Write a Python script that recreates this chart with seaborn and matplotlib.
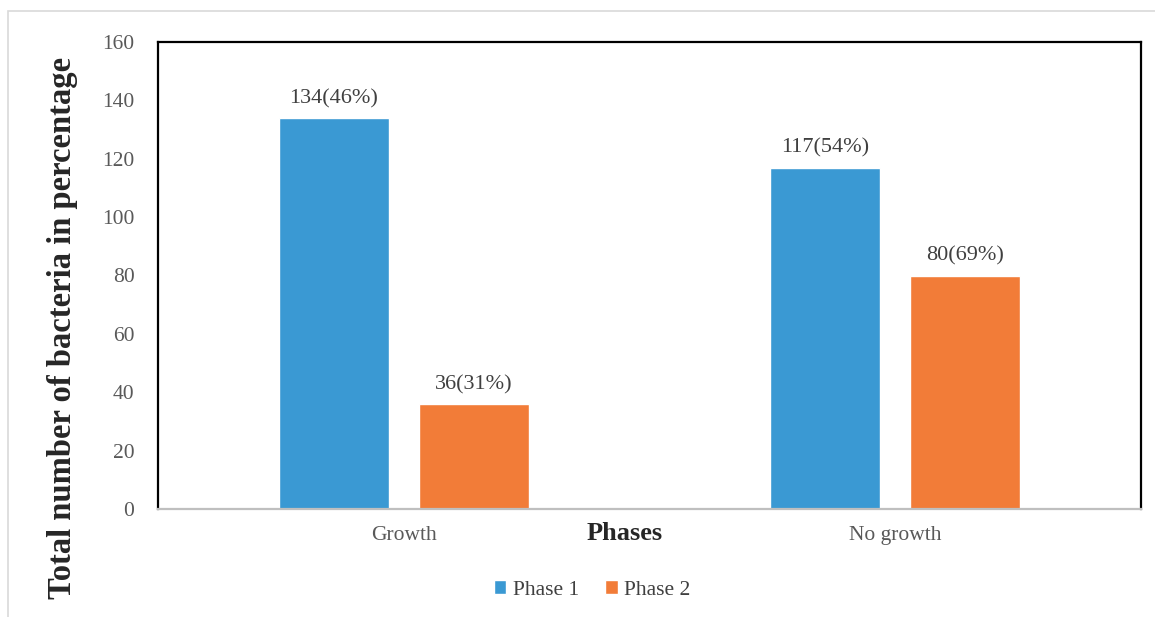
import pandas as pd
import matplotlib
matplotlib.use("Agg")
import matplotlib.pyplot as plt
import seaborn as sns
from matplotlib.patches import Rectangle, Patch

categories = ["Growth", "No growth"]
phases = ["Phase 1", "Phase 2"]
phase1_counts = [134, 117]
phase2_counts = [36, 80]
phase1_labels = ["134(46%)", "117(54%)"]
phase2_labels = ["36(31%)", "80(69%)"]

data = pd.DataFrame({
    "Category": categories * 2,
    "Phase": [phases[0]] * 2 + [phases[1]] * 2,
    "Count": phase1_counts + phase2_counts,
})

sns.set_style("white")
plt.rcParams['font.family'] = ['Liberation Serif', 'DejaVu Serif']

my_pal = {"Phase 1": '#3A99D3', "Phase 2": '#F27C38'}

fig = plt.figure(figsize=(11.55, 6.17), dpi=100)
ax = fig.add_axes([158 / 1155, 1 - 509 / 617, 983 / 1155, 467 / 617])

sns.barplot(ax=ax, data=data, x="Category", y="Count", hue="Phase", palette=my_pal,
            width=0.57, gap=0.214, saturation=1, legend=False)

for cont, labs in zip(ax.containers, [phase1_labels, phase2_labels]):
    ax.bar_label(cont, labels=labs, padding=7, fontsize=16, color='#404040')

ax.set_ylim(0, 160)
ax.set_yticks(range(0, 161, 20))
ax.set_xlim(-0.5, 1.5)
ax.tick_params(axis='both', length=0, labelsize=15.5, labelcolor='#595959')
ax.tick_params(axis='y', pad=17)
ax.tick_params(axis='x', pad=12)
ax.set_ylabel("Total number of bacteria in percentage", fontsize=23.5, fontweight='bold',
              color='#262626')
ax.yaxis.label.set_va('center')
ax.yaxis.set_label_coords(-0.097, 0.388)
ax.set_xlabel("Phases", fontsize=19, fontweight='bold', color='#262626')
ax.xaxis.label.set_va('center')
ax.xaxis.set_label_coords(0.475, -0.053)

for s in ['left', 'top', 'right']:
    ax.spines[s].set_visible(True)
    ax.spines[s].set_color('black')
    ax.spines[s].set_linewidth(1.6)
ax.spines['bottom'].set_color('#BFBFBF')
ax.spines['bottom'].set_linewidth(1.6)

# legend built from the palette
handles = [Patch(facecolor=my_pal[p], label=p) for p in phases]
fig.legend(handles=handles, loc='center', bbox_to_anchor=(592 / 1155, 1 - 590 / 617), ncol=2,
           frameon=False, fontsize=15.5, handlelength=0.6, handleheight=0.6, handletextpad=0.3,
           columnspacing=1.2, labelcolor='#404040')

# light frame around the figure
fig.patches.append(Rectangle((8 / 1155, -0.1), 1.2, 1 - 11 / 617 + 0.1, transform=fig.transFigure,
                             fill=False, edgecolor='#D9D9D9', linewidth=1.2))

fig.savefig("out.png", dpi=100, facecolor='white')
